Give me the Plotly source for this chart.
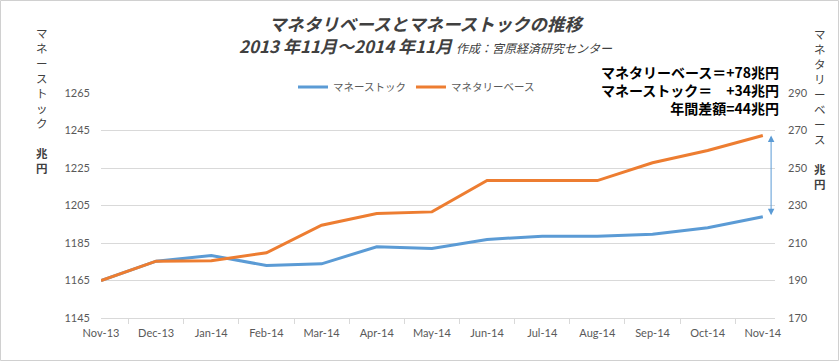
import plotly.graph_objects as go

# ---------------- data ----------------
months = ["Nov-13", "Dec-13", "Jan-14", "Feb-14", "Mar-14", "Apr-14", "May-14",
          "Jun-14", "Jul-14", "Aug-14", "Sep-14", "Oct-14", "Nov-14"]
money_stock = [1165, 1175.3, 1178.3, 1173.0, 1173.9, 1183.0, 1182.1,
               1186.9, 1188.6, 1188.6, 1189.7, 1193.1, 1199.0]
monetary_base = [190, 200.3, 200.5, 204.8, 219.5, 225.7, 226.6,
                 243.3, 243.3, 243.3, 252.8, 259.3, 267.3]
left_ticks = [1145, 1165, 1185, 1205, 1225, 1245, 1265]
right_ticks = [170, 190, 210, 230, 250, 270, 290]

series_names = ["マネーストック", "マネタリーベース"]
title_main = "マネタリベースとマネーストックの推移"
title_period = "2013 年11月～2014 年11月"
title_author = "作成：宮原経済研究センター"
note_lines = ["マネタリーベース＝+78兆円", "マネーストック＝　+34兆円", "年間差額=44兆円"]
left_title = ["マネーストック", "兆円"]
right_title = ["マネタリーベース", "兆円"]

# ---------------- layout geometry ----------------
W, H = 840, 362
PL, PR, PT, PB = 101, 775, 93, 318
pw, ph = PR - PL, PB - PT


def px(x):
    return (x - PL) / pw


def py(y):
    return (PB - y) / ph


def vertical(parts):
    a = "<br>".join(list(parts[0]))
    b = "<br>".join(f"<b>{c}</b>" for c in parts[1])
    return a + "<br><br>" + b


FONT = "Noto Sans CJK JP"
TICKFONT = "Lato"
GRAY = "#595959"
BLUE = "#5b9bd5"
ORANGE = "#ed7d31"

fig = go.Figure()
fig.add_trace(go.Scatter(x=months, y=money_stock, name=series_names[0], mode="lines",
                         line=dict(color=BLUE, width=3), yaxis="y"))
fig.add_trace(go.Scatter(x=months, y=monetary_base, name=series_names[1], mode="lines",
                         line=dict(color=ORANGE, width=3), yaxis="y2"))

annotations = []
# title (two lines in one text)
annotations.append(dict(
    text=(f"<span style='font-size:17.5px'><b><i>{title_main}</i></b></span><br>"
          f"<b><i>{title_period}</i></b> <span style='font-size:12px'><i>{title_author}</i></span>"),
    xref="paper", yref="paper", x=px(426), y=py(34), xanchor="center", yanchor="middle",
    showarrow=False, align="center", font=dict(family=FONT, size=17, color="#404040")))

# notes top right
annotations.append(dict(text="<br>".join(f"<b>{l}</b>" for l in note_lines), xref="paper", yref="paper",
                        x=px(781), y=py(90), xanchor="right", yanchor="middle", showarrow=False,
                        align="right", font=dict(family=FONT, size=14, color="#000000")))

# vertical axis titles
annotations.append(dict(text=vertical(left_title), xref="paper", yref="paper", x=px(42), y=py(23),
                        xanchor="center", yanchor="top", showarrow=False, align="center",
                        font=dict(family=FONT, size=11.5, color="#404040")))
annotations.append(dict(text=vertical(right_title), xref="paper", yref="paper", x=px(820), y=py(24),
                        xanchor="center", yanchor="top", showarrow=False, align="center",
                        font=dict(family=FONT, size=11.5, color="#404040")))

# double-headed arrow showing the gap
offset = left_ticks[0] - right_ticks[0]
annotations.append(dict(text="", x=len(months) - 1 + 0.15, y=monetary_base[-1],
                        ax=len(months) - 1 + 0.15, ay=money_stock[-1] - offset,
                        xref="x", yref="y2", axref="x", ayref="y2", showarrow=True,
                        arrowside="end+start", arrowhead=2, arrowsize=1.3, arrowwidth=1,
                        arrowcolor=BLUE, standoff=0, startstandoff=0))

shapes = [dict(type="rect", xref="paper", yref="paper", x0=px(0.5), x1=px(W - 1.5), y0=py(H - 1.5), y1=py(0.5),
               line=dict(color="#d0d0d0", width=1), fillcolor="rgba(0,0,0,0)", layer="below")]

fig.update_layout(
    width=W, height=H,
    margin=dict(l=PL, r=W - PR, t=PT, b=H - PB, pad=0),
    paper_bgcolor="white", plot_bgcolor="white",
    font=dict(family=FONT, color=GRAY),
    showlegend=True,
    legend=dict(orientation="h", x=px(293), y=py(87), xanchor="left", yanchor="middle",
                font=dict(family=FONT, size=10.5, color=GRAY), bgcolor="rgba(0,0,0,0)",
                itemwidth=30, tracegroupgap=0),
    xaxis=dict(type="category", showgrid=False, showline=True, linecolor="#d9d9d9", linewidth=1,
               ticks="outside", tickson="boundaries", ticklen=5, tickcolor="#d9d9d9",
               ticklabelstandoff=5,
               tickfont=dict(family=TICKFONT, size=11, color=GRAY), fixedrange=True),
    yaxis=dict(range=[left_ticks[0], left_ticks[-1]], tickvals=left_ticks, showgrid=True,
               gridcolor="#d9d9d9", gridwidth=1, zeroline=False, showline=False, ticks="",
               ticklabelstandoff=10, tickfont=dict(family=TICKFONT, size=11, color=GRAY)),
    yaxis2=dict(range=[right_ticks[0], right_ticks[-1]], tickvals=right_ticks, overlaying="y", side="right",
                showgrid=False, zeroline=False, showline=False, ticks="", ticklabelstandoff=12,
                tickfont=dict(family=TICKFONT, size=11, color=GRAY)),
    annotations=annotations,
    shapes=shapes,
)

fig.write_html("out.html", config={"displayModeBar": False, "staticPlot": True},
               post_script="document.body.style.margin='0';document.body.style.overflow='hidden';")
